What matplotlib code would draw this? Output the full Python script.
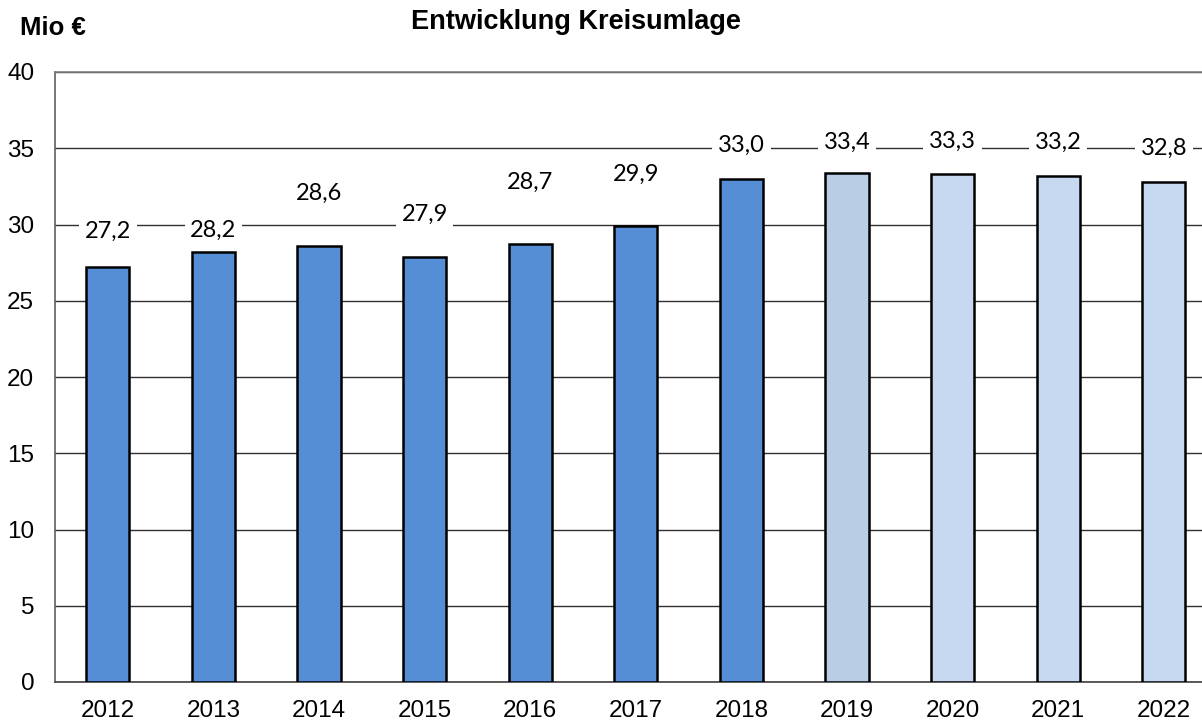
import matplotlib
matplotlib.use("Agg")
import matplotlib.pyplot as plt

years = ["2012", "2013", "2014", "2015", "2016", "2017", "2018", "2019", "2020", "2021", "2022"]
values = [27.2, 28.2, 28.6, 27.9, 28.7, 29.9, 33.0, 33.4, 33.3, 33.2, 32.8]
value_labels = ["27,2", "28,2", "28,6", "27,9", "28,7", "29,9", "33,0", "33,4", "33,3", "33,2", "32,8"]
# layout: where each value label sits (in axis units)
label_pos = [29.57, 29.64, 32.07, 30.69, 32.79, 33.31, 35.21, 35.41, 35.48, 35.41, 35.02]
colors = ["#558ED5"] * 7 + ["#B9CDE5"] + ["#C6D9F1"] * 3
yticks = [0, 5, 10, 15, 20, 25, 30, 35, 40]

W, H = 1202, 724
fig = plt.figure(figsize=(W / 100, H / 100), dpi=100)
left_px, right_px = 55, 1216.6
bottom_px, top_px = 682, 72
ax = fig.add_axes([left_px / W, 1 - bottom_px / H, (right_px - left_px) / W, (bottom_px - top_px) / H])

x = list(range(len(years)))
ax.bar(x, values, width=0.41, color=colors, edgecolor="black", linewidth=1.8, zorder=3)

ax.set_xlim(-0.5, len(years) - 0.5)
ax.set_ylim(0, 40)
ax.set_yticks(yticks)
ax.set_yticklabels([str(t) for t in yticks])
ax.set_xticks(x)
ax.set_xticklabels(years)
ax.tick_params(axis="both", length=0, labelsize=17.5)
ax.tick_params(axis="y", pad=15)
ax.tick_params(axis="x", pad=13)
for lab in ax.get_xticklabels() + ax.get_yticklabels():
    lab.set_fontfamily("Liberation Sans")

ax.yaxis.grid(True, color="#303030", linewidth=1.0, zorder=0)
ax.set_axisbelow(True)
ax.spines["right"].set_visible(False)
ax.spines["top"].set_color("#808080")
ax.spines["top"].set_linewidth(1.2)
ax.spines["left"].set_color("#606060")
ax.spines["left"].set_linewidth(1.2)
ax.spines["bottom"].set_color("#404040")
ax.spines["bottom"].set_linewidth(1.2)

for xi, lbl, ly in zip(x, value_labels, label_pos):
    ax.text(xi, ly, lbl, ha="center", va="center", fontsize=17, fontfamily="Lato",
            color="black", zorder=4,
            bbox=dict(facecolor="white", edgecolor="none", pad=4))

fig.text(576 / W, 1 - 22 / H, "Entwicklung Kreisumlage", ha="center", va="center",
         fontsize=19.5, fontweight="bold", fontfamily="Liberation Sans")
fig.text(20 / W, 1 - 28 / H, "Mio €", ha="left", va="center",
         fontsize=18.5, fontweight="bold", fontfamily="Liberation Sans")

fig.savefig("out.png", dpi=100)
